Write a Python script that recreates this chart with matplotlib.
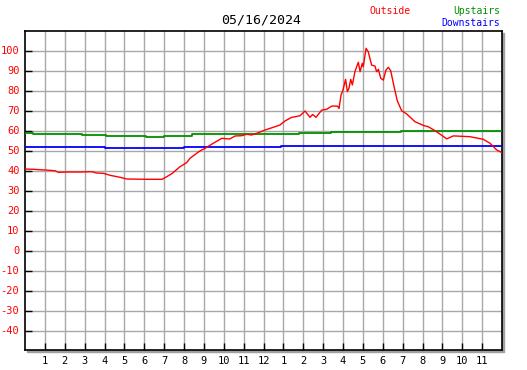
import matplotlib.pyplot as plt
from matplotlib.patches import Rectangle

# Outside temperature (hour of day, deg F)
out_hours = [0.0, 0.42, 1.0, 1.5, 1.68, 2.1, 2.77, 3.36, 3.6, 3.94, 4.28, 4.78, 5.12,
             6.12, 6.9, 7.13, 7.4, 7.8, 8.13, 8.3, 8.8, 9.06, 9.47, 9.9, 10.3, 10.57,
             10.9, 11.15, 11.4, 11.66, 12.08, 12.49, 12.83, 13.08, 13.4, 13.84, 14.09,
             14.34, 14.47, 14.64, 14.93, 15.18, 15.43, 15.72, 15.8, 15.9, 16.0, 16.13,
             16.22, 16.3, 16.39, 16.47, 16.6, 16.77, 16.86, 16.97, 17.02, 17.16, 17.27,
             17.44, 17.61, 17.69, 17.78, 17.9, 18.03, 18.16, 18.28, 18.4, 18.57, 18.73,
             18.95, 19.2, 19.62, 20.08, 20.29, 20.71, 21.22, 21.55, 22.39, 23.06, 23.4,
             23.73, 24.0]
out_temps = [40.75, 40.6, 40.25, 39.9, 39.1, 39.25, 39.25, 39.4, 38.75, 38.6, 37.6, 36.6, 35.75,
             35.6, 35.6, 36.9, 38.5, 41.9, 43.9, 46.1, 49.8, 51.1, 53.6, 56.1, 55.75, 57.25,
             57.4, 58.1, 57.75, 58.6, 60.25, 61.6, 62.75, 64.75, 66.5, 67.4, 69.75,
             66.6, 68.0, 66.6, 70.2, 70.6, 72.2, 72.2, 71.0, 77.7, 80.2, 85.6,
             79.4, 81.1, 85.6, 82.8, 89.4, 94.1, 89.4, 93.6, 91.9, 101.1, 99.4,
             92.7, 92.2, 89.4, 90.6, 86.1, 85.2, 90.2, 91.6, 89.9, 81.9, 74.9,
             69.9, 68.3, 64.4, 62.4, 61.9, 59.4, 55.8, 57.3, 56.9, 55.6, 53.6,
             50.3, 48.9]

# Upstairs (step changes)
up_hours = [0.0, 0.4, 2.85, 4.1, 6.1, 7.0, 8.4, 13.8, 15.4, 18.9, 24.0]
up_temps = [58.6, 58.1, 57.6, 57.1, 56.7, 57.4, 58.1, 58.6, 59.1, 59.7, 59.7]

# Downstairs (step changes)
down_hours = [0.0, 4.05, 8.0, 12.9, 24.0]
down_temps = [51.7, 51.1, 51.7, 52.3, 52.3]

x_ticks = list(range(1, 24))
x_labels = [str(h) for h in range(1, 13)] + [str(h) for h in range(1, 12)]
y_ticks = list(range(-40, 101, 10))

W, H = 527, 370
fig = plt.figure(figsize=(W / 100, H / 100), dpi=100)
left, right, top, bottom = 25, 502, 30.5, 350
ax = fig.add_axes([left / W, 1 - bottom / H, (right - left) / W, (bottom - top) / H])

# drop shadow behind the plot frame
fig.patches.append(Rectangle(((left + 2) / W, 1 - (bottom + 2) / H),
                             (right - left) / W, (bottom - top) / H,
                             transform=fig.transFigure, color='#a0a0a0', zorder=-5))

mono = 'DejaVu Sans Mono'
ax.plot(out_hours, out_temps, color='red', lw=1.0, zorder=4)
ax.plot(up_hours, up_temps, color='#009000', lw=1.3, drawstyle='steps-post', zorder=3)
ax.plot(down_hours, down_temps, color='blue', lw=1.3, drawstyle='steps-post', zorder=3)

ax.set_xlim(0, 24)
ax.set_ylim(-49.75, 110)
ax.set_xticks(range(0, 25), minor=True)
ax.set_xticks(x_ticks)
ax.set_xticklabels(x_labels, family=mono, fontsize=7.5)
ax.set_yticks(y_ticks)
ax.set_yticklabels([str(v) for v in y_ticks], family=mono, fontsize=7.5, color='red')
ax.grid(True, color='#a8a8a8', lw=1, zorder=0)
ax.tick_params(direction='in', length=5, width=1, color='black', pad=4)
ax.tick_params(axis='x', which='minor', length=0)
for s in ax.spines.values():
    s.set_linewidth(1.2)
    s.set_color('black')

fig.text(261 / W, 1 - 20 / H, '05/16/2024', ha='center', va='center', family=mono, fontsize=9.5)
fig.text(370 / W, 1 - 11 / H, 'Outside', ha='left', va='center', family=mono, fontsize=7, color='red')
fig.text(500 / W, 1 - 11 / H, 'Upstairs', ha='right', va='center', family=mono, fontsize=7, color='#009000')
fig.text(500 / W, 1 - 23 / H, 'Downstairs', ha='right', va='center', family=mono, fontsize=7, color='blue')

fig.savefig('out.png', dpi=100, facecolor='white')
